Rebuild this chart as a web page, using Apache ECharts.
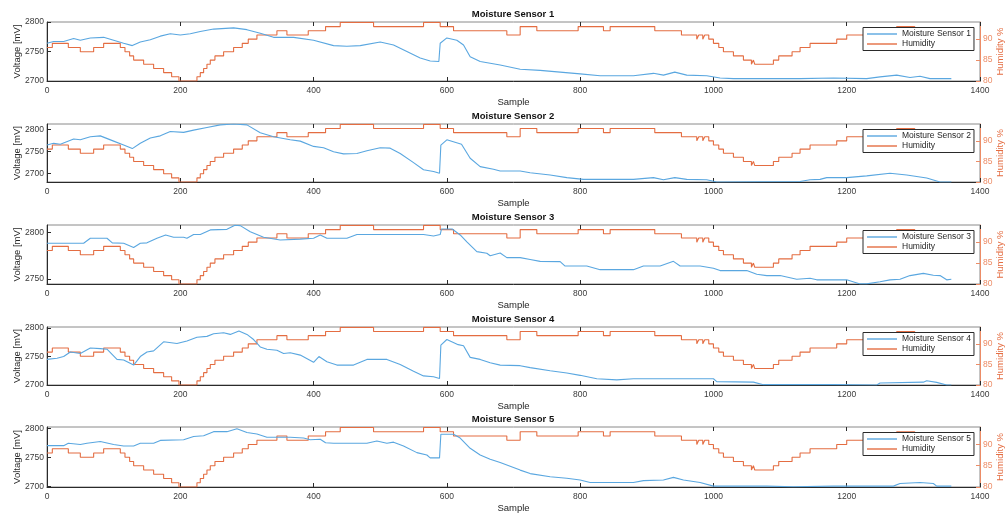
<!DOCTYPE html>
<html>
<head>
<meta charset="utf-8">
<script src="https://cdn.jsdelivr.net/npm/echarts@6/dist/echarts.min.js"></script>
<style>html,body{margin:0;padding:0;background:#fff}#c{width:1005px;height:518px}</style>
</head>
<body>
<div id="c"></div>
<script>
// ---- data ----
const sensorNames = ['Moisture Sensor 1','Moisture Sensor 2','Moisture Sensor 3','Moisture Sensor 4','Moisture Sensor 5'];
const xTicks = [0, 200, 400, 600, 800, 1000, 1200, 1400];
const voltageTicks1 = [2700, 2750, 2800];
const voltageTicks2 = [2700, 2750, 2800];
const voltageTicks3 = [2750, 2800];
const voltageTicks4 = [2700, 2750, 2800];
const voltageTicks5 = [2700, 2750, 2800];
const humidityTicks = [80, 85, 90];
const voltageMin = [2700, 2680, 2744.5, 2700, 2699];
const voltageMax = [2800, 2812, 2808.3, 2802, 2802];
const humidityMin = 80, humidityMax = 94.1;

const sensor1 = [[0,2764],[10,2767],[25,2767],[40,2772],[50,2769],[65,2773],[85,2774],[100,2769],[115,2764],[128,2760],[140,2766],[155,2770],[170,2776],[185,2780],[200,2778],[215,2780],[230,2784],[250,2788],[280,2790],[300,2787],[320,2781],[340,2774],[370,2774],[400,2769],[430,2760],[450,2759],[470,2760],[500,2766],[520,2761],[540,2750],[560,2739],[575,2734],[588,2733],[590,2764],[600,2773],[615,2769],[625,2761],[635,2741],[650,2733],[665,2730],[680,2727],[710,2720],[740,2718],[770,2715],[800,2712],[830,2709],[880,2709],[910,2713],[925,2710],[942,2715],[960,2710],[990,2709],[1010,2705],[1030,2704],[1130,2704],[1180,2705],[1230,2704],[1250,2707],[1275,2710],[1295,2706],[1310,2708],[1325,2704],[1357,2704]];
const sensor2 = [[0,2764],[10,2768],[20,2766],[40,2778],[50,2776],[65,2783],[80,2785],[100,2773],[115,2764],[128,2756],[140,2768],[155,2780],[170,2785],[185,2795],[205,2793],[220,2798],[240,2804],[260,2810],[280,2812],[300,2810],[320,2792],[340,2783],[365,2776],[380,2773],[400,2761],[415,2758],[430,2749],[445,2744],[465,2745],[480,2751],[500,2758],[515,2757],[530,2745],[550,2724],[565,2708],[580,2704],[589,2700],[591,2764],[600,2776],[622,2766],[635,2734],[650,2715],[670,2709],[680,2705],[710,2705],[725,2701],[755,2696],[780,2690],[805,2686],[880,2686],[910,2690],[925,2685],[942,2690],[960,2686],[990,2685],[1005,2680],[1130,2681],[1145,2685],[1160,2686],[1170,2690],[1200,2690],[1230,2694],[1265,2700],[1290,2696],[1320,2689],[1340,2680],[1357,2680]];
const sensor3 = [[0,2788.5],[55,2788.5],[65,2794],[90,2794],[98,2789],[115,2788.5],[130,2784],[140,2788.5],[150,2789],[165,2794],[178,2797.5],[190,2795],[205,2795],[210,2794],[220,2798],[230,2798],[245,2803],[270,2803.6],[282,2808],[290,2807.6],[305,2801],[325,2795],[350,2792],[380,2793],[400,2794],[410,2797.5],[420,2794],[450,2794],[465,2798],[480,2798],[565,2798],[580,2796.4],[590,2798],[592,2804],[608,2804],[620,2797.5],[630,2790],[645,2779.5],[660,2777.7],[665,2775],[680,2778],[690,2773],[710,2773],[725,2771],[740,2769],[770,2768.7],[777,2764],[810,2764],[830,2760],[880,2760],[895,2764],[920,2764],[940,2769],[950,2764],[980,2764],[1000,2761.5],[1010,2759],[1050,2759],[1065,2755],[1080,2753.6],[1100,2753.6],[1125,2749.6],[1145,2750.7],[1155,2749],[1200,2749],[1220,2744.6],[1230,2744.6],[1250,2747],[1265,2749],[1280,2749.6],[1295,2753.6],[1315,2756],[1330,2754],[1340,2753.6],[1350,2749],[1357,2749.6]];
const sensor4 = [[0,2745],[15,2747],[25,2750],[35,2758],[50,2755.5],[65,2765],[80,2764],[90,2763],[105,2745],[115,2744],[130,2735],[140,2750],[150,2758],[160,2760],[175,2776],[195,2773],[210,2777.5],[225,2784],[240,2785.5],[250,2790],[265,2792],[275,2789],[288,2795],[300,2789],[310,2780],[320,2767],[330,2763],[345,2761],[355,2755.5],[365,2756.6],[380,2752.6],[400,2740],[408,2750],[420,2741],[435,2735],[460,2735],[480,2745],[510,2745],[530,2736],[550,2724],[565,2716],[580,2714.5],[589,2711.5],[591,2770],[600,2780],[617,2771],[625,2769],[635,2748.6],[650,2745],[665,2739],[680,2735],[710,2734],[725,2730.6],[755,2725],[780,2721],[800,2717],[825,2711],[855,2709],[880,2711],[930,2711],[1000,2711],[1005,2706],[1060,2705],[1075,2700.6],[1180,2700.6],[1245,2700],[1250,2703.5],[1315,2705],[1320,2707.5],[1335,2704.6],[1350,2700],[1357,2700]];
const sensor5 = [[0,2770],[25,2770],[32,2774],[50,2772],[60,2774],[80,2777],[100,2772],[115,2769.5],[130,2769.5],[140,2774],[160,2774],[170,2779],[205,2780],[220,2785.6],[235,2787],[250,2794],[270,2794],[285,2799],[300,2792.5],[315,2790],[330,2784.5],[365,2784.5],[385,2783],[395,2780],[410,2781],[418,2775],[430,2774],[480,2774],[495,2778],[510,2774],[520,2776],[535,2769.5],[555,2758],[570,2754],[575,2749],[589,2749],[591,2789.6],[610,2789.6],[620,2783],[635,2765.5],[650,2754],[665,2746.5],[680,2741],[710,2728],[725,2722],[755,2716.6],[780,2714],[800,2711],[815,2706.6],[880,2706.6],[895,2710],[925,2711],[940,2715.5],[955,2711],[980,2706.6],[1000,2700.5],[1080,2700.5],[1120,2699.4],[1180,2700.5],[1270,2700.5],[1280,2705],[1310,2706.6],[1330,2705],[1335,2700.5],[1357,2700.5]];
const humidity = [[0,88],[8,89],[32,88],[50,87],[70,88],[85,89],[110,88],[117,87],[124,86],[130,85],[145,84],[160,83],[175,82],[187,81],[198,80],[225,81],[230,82],[235,83],[240,84],[245,85],[252,86],[265,87],[280,88],[293,89],[302,90],[315,91],[345,92],[360,91],[392,92],[418,93],[440,94],[490,93],[565,94],[590,93],[610,92],[690,91],[710,93],[735,92],[797,93],[835,92],[845,93],[912,92],[952,91],[975,90],[978,91],[984,90],[987,91],[993,90],[1000,89],[1008,88],[1015,87],[1030,86],[1045,85],[1057,84],[1060,85],[1062,84],[1090,85],[1098,86],[1118,87],[1130,88],[1145,89],[1185,90],[1200,91],[1240,92],[1275,93],[1302,92],[1330,91],[1360,91]];

const sensors = [sensor1, sensor2, sensor3, sensor4, sensor5];
const voltageTicks = [voltageTicks1, voltageTicks2, voltageTicks3, voltageTicks4, voltageTicks5];

// ---- layout / style ----
const FONT = 'Liberation Sans, Arial, Helvetica, sans-serif';
const BLUE = '#5aa7e0';
const ORANGE = '#e46d42';
const ORANGE_AX = '#ec8c66';
const TXT = '#3a3a3a';
const gridTops = [22, 124, 225, 327, 427];
const gridHeights = [59, 58, 59, 58, 60];
const L = 47, R = 25;
const plain = v => String(v);

const grid = [], xAxis = [], yAxis = [], series = [], title = [], legend = [];
for (let i = 0; i < 5; i++) {
  grid.push({left: L, right: R, top: gridTops[i], height: gridHeights[i], show: true, borderColor: '#8a8a8a', borderWidth: 1, backgroundColor: '#fff', containLabel: false, outerBoundsMode: 'none'});
  xAxis.push({
    type: 'value', gridIndex: i, min: 0, max: 1400, interval: 200,
    name: 'Sample', nameLocation: 'middle', nameGap: 16, nameMoveOverlap: false,
    nameTextStyle: {fontSize: 9.5, color: '#262626', fontFamily: FONT},
    axisLine: {show: true, onZero: false, lineStyle: {color: '#2a2a2a', width: 1}},
    axisTick: {show: true, inside: true, length: 4, lineStyle: {color: '#2a2a2a'}},
    axisLabel: {fontSize: 8.5, color: TXT, margin: 5, fontFamily: FONT, formatter: plain},
    splitLine: {show: false}
  });
  xAxis.push({
    type: 'value', gridIndex: i, position: 'top', min: 0, max: 1400, interval: 200,
    axisLine: {show: false},
    axisTick: {show: true, inside: true, length: 4, lineStyle: {color: '#2a2a2a'}},
    axisLabel: {show: false}, splitLine: {show: false}
  });
  yAxis.push({
    type: 'value', gridIndex: i, position: 'left', min: voltageMin[i], max: voltageMax[i],
    name: 'Voltage [mV]', nameLocation: 'middle', nameGap: 25, nameRotate: 90, nameMoveOverlap: false,
    nameTextStyle: {fontSize: 9.5, color: '#262626', fontFamily: FONT},
    axisLine: {show: true, onZero: false, lineStyle: {color: '#2a2a2a', width: 1}},
    axisTick: {show: true, inside: true, length: 4, customValues: voltageTicks[i], lineStyle: {color: '#2a2a2a'}},
    axisLabel: {customValues: voltageTicks[i], fontSize: 8.5, color: TXT, margin: 3, fontFamily: FONT, formatter: plain},
    splitLine: {show: false}
  });
  yAxis.push({
    type: 'value', gridIndex: i, position: 'right', min: humidityMin, max: humidityMax,
    name: 'Humidity %', nameLocation: 'middle', nameGap: 15, nameRotate: 90, nameMoveOverlap: false,
    nameTextStyle: {fontSize: 9.5, color: ORANGE, fontFamily: FONT},
    axisLine: {show: true, onZero: false, lineStyle: {color: ORANGE_AX, width: 1}},
    axisTick: {show: true, inside: true, length: 4, customValues: humidityTicks, lineStyle: {color: ORANGE_AX}},
    axisLabel: {customValues: humidityTicks, fontSize: 8.5, color: ORANGE_AX, margin: 3, fontFamily: FONT, formatter: plain},
    splitLine: {show: false}
  });
  series.push({
    type: 'line', name: sensorNames[i], xAxisIndex: 2 * i, yAxisIndex: 2 * i,
    data: sensors[i], showSymbol: false, symbol: 'none', animation: false,
    lineStyle: {color: BLUE, width: 1.1}, itemStyle: {color: BLUE}, z: 3
  });
  series.push({
    type: 'line', name: 'Humidity', xAxisIndex: 2 * i, yAxisIndex: 2 * i + 1,
    data: humidity, step: 'end', showSymbol: false, symbol: 'none', animation: false,
    lineStyle: {color: ORANGE, width: 1.1}, itemStyle: {color: ORANGE}, z: 2
  });
  title.push({
    text: sensorNames[i], left: 513, top: gridTops[i] - 12.5, textAlign: 'center', padding: 0,
    textStyle: {fontSize: 9.5, fontWeight: 'bold', color: '#111', fontFamily: FONT}
  });
  legend.push({
    data: [sensorNames[i], 'Humidity'], orient: 'vertical', left: 863, top: gridTops[i] + 5.5,
    width: 109, padding: [2, 3, 2, 4], itemGap: 1, itemWidth: 30, itemHeight: 1.4, itemTextGap: 4,
    icon: 'rect', backgroundColor: '#fff', borderColor: '#2a2a2a', borderWidth: 1,
    textStyle: {fontSize: 8.5, color: '#262626', fontFamily: FONT, width: 68}, selectedMode: false, z: 10
  });
}

const chart = echarts.init(document.getElementById('c'), null, {renderer: 'canvas'});
chart.setOption({animation: false, backgroundColor: '#fff', grid, xAxis, yAxis, series, title, legend, tooltip: {show: false}});
</script>
</body>
</html>
